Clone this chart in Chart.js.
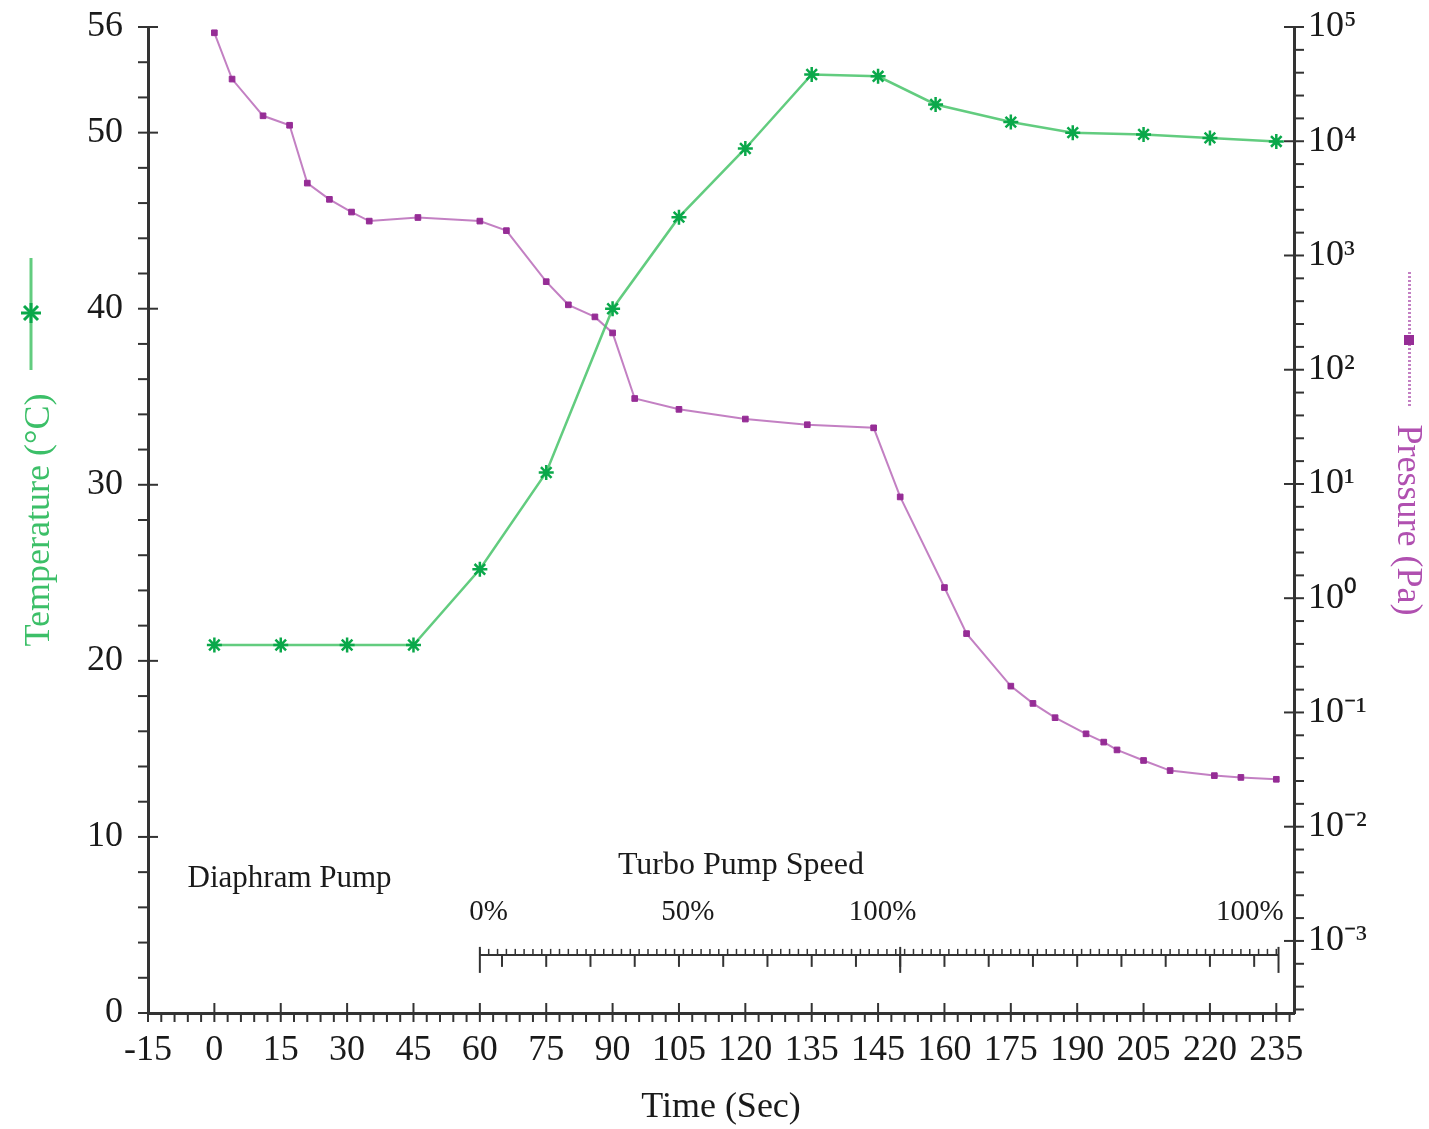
<!DOCTYPE html>
<html>
<head>
<meta charset="utf-8">
<script src="https://cdn.jsdelivr.net/npm/chart.js@4.4.1/dist/chart.umd.min.js"></script>
<style>
  html, body { margin: 0; padding: 0; background: #fff; }
  canvas { display: block; }
</style>
</head>
<body>
<canvas id="vacuumChart" width="1429" height="1129"></canvas>
<script>
// x axis labels are evenly spaced (15 units apart), "145" sits where 150 would be
const xTickLabels = ['-15', '0', '15', '30', '45', '60', '75', '90', '105', '120', '135', '145', '160', '175', '190', '205', '220', '235'];

const tempTime = [0, 15, 30, 45, 60, 75, 90, 105, 120, 135, 150, 163, 180, 194, 210, 225, 240];
const tempValues = [20.9, 20.9, 20.9, 20.9, 25.2, 30.7, 40.0, 45.2, 49.1, 53.3, 53.2, 51.6, 50.6, 50.0, 49.9, 49.7, 49.5];

const pressureTime = [0, 4, 11, 17, 21, 26, 31, 35, 46, 60, 66, 75, 80, 86, 90, 95, 105, 120, 134, 149,
    155, 165, 170, 180, 185, 190, 197, 201, 204, 210, 216, 226, 232, 240];
const pressureValues = [89000, 35000, 16700, 13800, 4300, 3100, 2400, 2000, 2150, 2000, 1650, 590, 370, 290, 210, 56, 45, 37, 33, 31,
    7.7, 1.24, 0.49, 0.17, 0.12, 0.09, 0.065, 0.055, 0.047, 0.038, 0.031, 0.028, 0.027, 0.026];

const tempTicks = [0, 10, 20, 30, 40, 50, 56];
const pressureExponents = [-3, -2, -1, 0, 1, 2, 3, 4, 5];

const turboLabels = ['0%', '50%', '100%', '100%'];
const turboLabelTime = [62, 107, 151, 234];

const serif = "'Liberation Serif', 'Times New Roman', serif";
const axisColor = '#333333';
const textColor = '#1a1a1a';
const greenLine = 'rgba(70, 195, 105, 0.85)';
const greenMark = '#0aa84a';
const purpleLine = 'rgba(175, 85, 175, 0.75)';
const purpleMark = '#962d96';

const sup = { '0': '\u2070', '1': '\u00b9', '2': '\u00b2', '3': '\u00b3', '4': '\u2074', '5': '\u2075', '-': '\u207b' };
function powerLabel(e) {
    return '10' + String(e).split('').map(c => sup[c]).join('');
}

function line(ctx, x1, y1, x2, y2) {
    ctx.beginPath();
    ctx.moveTo(x1, y1);
    ctx.lineTo(x2, y2);
    ctx.stroke();
}

// keep the plot box fixed: labels may hang over the edges
function noOverhang(s) {
    s.paddingTop = 0;
    s.paddingBottom = 0;
    s.paddingLeft = 0;
    s.paddingRight = 0;
}

// tick marks, turbo pump ruler, notes and the little legend marks next to the axis titles
const extras = {
    id: 'extras',
    afterDraw(chart) {
        const { ctx, chartArea: a } = chart;
        const x = chart.scales.x, yT = chart.scales.yT, yP = chart.scales.yP;
        ctx.save();
        ctx.strokeStyle = axisColor;
        ctx.lineWidth = 2;

        // left axis
        for (let v = 0; v <= 56; v += 2) {
            const py = yT.getPixelForValue(v);
            const major = tempTicks.includes(v);
            line(ctx, a.left - 10, py, major ? a.left + 10 : a.left, py);
        }
        // bottom axis
        for (let v = -15; v <= 243; v += 3) {
            const px = x.getPixelForValue(v);
            const major = (v + 15) % 15 === 0;
            line(ctx, px, major ? a.bottom - 10 : a.bottom, px, a.bottom + 9);
        }
        // right axis, 5 steps per decade
        for (let i = 0; i <= 43; i++) {
            const e = -3.6 + i * 0.2;
            const py = yP.getPixelForValue(Math.pow(10, e));
            const major = Math.abs(e - Math.round(e)) < 0.01;
            line(ctx, major ? a.right - 10 : a.right, py, a.right + 10, py);
        }

        // turbo pump speed ruler
        const ry = yT.getPixelForValue(3.3);
        ctx.lineWidth = 2;
        line(ctx, x.getPixelForValue(60), ry, x.getPixelForValue(240.5), ry);
        ctx.lineWidth = 1.5;
        for (let v = 60; v <= 240; v += 2) {
            const px = x.getPixelForValue(v);
            line(ctx, px, ry - 6, px, ry);
        }
        ctx.lineWidth = 2;
        for (let v = 65; v <= 235; v += 10) {
            const px = x.getPixelForValue(v);
            line(ctx, px, ry, px, ry + 12);
        }
        [60, 155, 240.5].forEach(v => {
            const px = x.getPixelForValue(v);
            line(ctx, px, ry - 8, px, ry + 18);
        });

        ctx.fillStyle = textColor;
        ctx.textAlign = 'center';
        ctx.textBaseline = 'middle';
        ctx.font = '29px ' + serif;
        turboLabels.forEach((t, i) => {
            ctx.fillText(t, x.getPixelForValue(turboLabelTime[i]), yT.getPixelForValue(5.7));
        });
        ctx.font = '32px ' + serif;
        ctx.fillText('Turbo Pump Speed', x.getPixelForValue(119), yT.getPixelForValue(8.4));
        ctx.font = '31px ' + serif;
        ctx.fillText('Diaphram Pump', x.getPixelForValue(17), yT.getPixelForValue(7.6));

        // legend mark for temperature (left title)
        const mid = (a.top + a.bottom) / 2;
        ctx.strokeStyle = greenLine;
        ctx.lineWidth = 3;
        line(ctx, 31, mid - 262, 31, mid - 150);
        ctx.strokeStyle = greenMark;
        ctx.lineWidth = 3;
        const sy = mid - 207, r = 10;
        line(ctx, 31, sy - r, 31, sy + r);
        line(ctx, 31 - r, sy, 31 + r, sy);
        line(ctx, 31 - r * 0.7, sy - r * 0.7, 31 + r * 0.7, sy + r * 0.7);
        line(ctx, 31 - r * 0.7, sy + r * 0.7, 31 + r * 0.7, sy - r * 0.7);

        // legend mark for pressure (right title)
        ctx.fillStyle = purpleLine;
        for (let yy = mid - 248; yy <= mid - 115; yy += 4) {
            ctx.fillRect(1408, yy, 3, 2);
        }
        ctx.fillStyle = purpleMark;
        ctx.fillRect(1404, mid - 185, 10, 10);
        ctx.restore();
    }
};

const ctx = document.getElementById('vacuumChart').getContext('2d');
const vacuumChart = new Chart(ctx, {
    type: 'line',
    data: {
        datasets: [{
            label: 'Temperature',
            data: tempTime.map((t, i) => ({ x: t, y: tempValues[i] })),
            yAxisID: 'yT',
            borderColor: greenLine,
            borderWidth: 2.5,
            pointStyle: 'star',
            pointRadius: 7.5,
            pointBorderWidth: 2.5,
            pointBorderColor: greenMark,
            pointBackgroundColor: greenMark,
            tension: 0
        }, {
            label: 'Pressure',
            data: pressureTime.map((t, i) => ({ x: t, y: pressureValues[i] })),
            yAxisID: 'yP',
            borderColor: purpleLine,
            borderWidth: 2,
            pointStyle: 'rect',
            pointRadius: 4,
            pointBorderWidth: 1,
            pointBorderColor: purpleMark,
            pointBackgroundColor: purpleMark,
            tension: 0
        }]
    },
    options: {
        responsive: false,
        animation: false,
        devicePixelRatio: 1,
        layout: { padding: { top: 27, left: 0, right: 0, bottom: 0 } },
        plugins: {
            legend: { display: false },
            tooltip: { enabled: false }
        },
        scales: {
            x: {
                type: 'linear',
                min: -15,
                max: 244,
                afterBuildTicks: s => { s.ticks = xTickLabels.map((_, i) => ({ value: -15 + 15 * i })); },
                afterFit: s => { s.height = 116; noOverhang(s); },
                ticks: {
                    autoSkip: false,
                    maxRotation: 0,
                    minRotation: 0,
                    padding: 6,
                    color: textColor,
                    font: { family: serif, size: 36 },
                    callback: (v, i) => xTickLabels[i]
                },
                grid: { display: true, drawOnChartArea: false, drawTicks: true, tickLength: 10, tickColor: 'rgba(0,0,0,0)' },
                border: { display: true, color: axisColor, width: 3 },
                title: {
                    display: true,
                    text: 'Time (Sec)',
                    color: textColor,
                    font: { family: serif, size: 36 },
                    padding: { top: 0, bottom: 0 }
                }
            },
            yT: {
                type: 'linear',
                position: 'left',
                min: 0,
                max: 56,
                afterBuildTicks: s => { s.ticks = tempTicks.map(v => ({ value: v })); },
                afterFit: s => { s.width = 148; noOverhang(s); },
                ticks: {
                    padding: 15,
                    color: textColor,
                    font: { family: serif, size: 36 }
                },
                grid: { display: true, drawOnChartArea: false, drawTicks: true, tickLength: 10, tickColor: 'rgba(0,0,0,0)' },
                border: { display: true, color: axisColor, width: 3 },
                title: {
                    display: true,
                    text: 'Temperature (\u00b0C)',
                    color: '#3cbf68',
                    font: { family: serif, size: 36 },
                    padding: { top: 18, bottom: 0 }
                }
            },
            yP: {
                type: 'logarithmic',
                position: 'right',
                min: 2.34e-4,
                max: 1e5,
                afterBuildTicks: s => { s.ticks = pressureExponents.map(e => ({ value: Math.pow(10, e) })); },
                afterFit: s => { s.width = 135; noOverhang(s); },
                ticks: {
                    padding: 4,
                    color: textColor,
                    font: { family: serif, size: 36 },
                    callback: (v, i) => powerLabel(pressureExponents[i])
                },
                grid: { display: true, drawOnChartArea: false, drawTicks: true, tickLength: 10, tickColor: 'rgba(0,0,0,0)' },
                border: { display: true, color: axisColor, width: 3 },
                title: {
                    display: true,
                    text: 'Pressure (Pa)',
                    color: '#b050b0',
                    font: { family: serif, size: 36 },
                    padding: { top: 0, bottom: 0 }
                }
            }
        }
    },
    plugins: [extras]
});
</script>
</body>
</html>
